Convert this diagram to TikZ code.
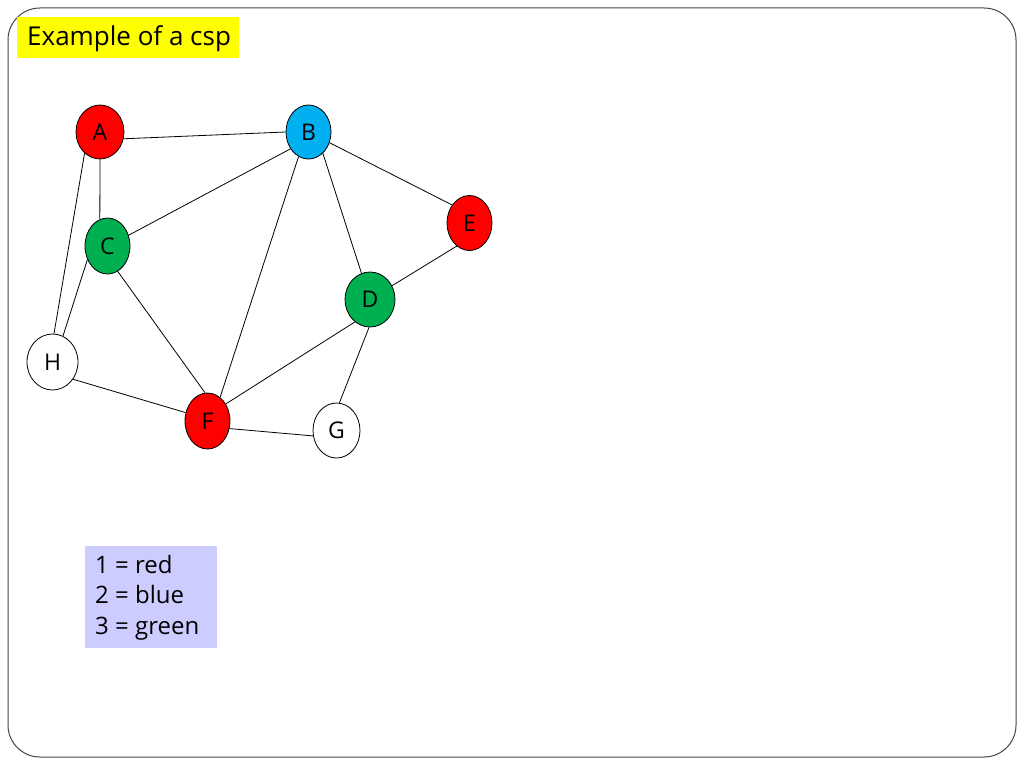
\documentclass[tikz,border=0pt]{standalone}
\usepackage{fontspec}
\setmainfont{Open Sans}
\usetikzlibrary{shapes.geometric}
\definecolor{nred}{RGB}{255,0,0}
\definecolor{nblue}{RGB}{0,176,240}
\definecolor{ngreen}{RGB}{0,176,80}
\definecolor{tyellow}{RGB}{255,255,0}
\definecolor{lav}{RGB}{204,204,255}
\definecolor{frame}{RGB}{70,70,70}
\begin{document}
\begin{tikzpicture}[x=1pt,y=-1pt,
  vnode/.style={ellipse,draw=black,line width=0.8pt,minimum width=46pt,minimum height=55pt,inner sep=0pt,font=\fontsize{23}{26}\selectfont},
  edge/.style={draw=black,line width=0.8pt}]
\useasboundingbox (0,0) rectangle (1024,768);
\fill[white] (0,0) rectangle (1024,768);
\draw[frame,line width=1pt,rounded corners=32pt] (8,8) rectangle (1016,757);
% title
\node[fill=tyellow,minimum width=222pt,minimum height=41pt,inner sep=0pt,anchor=north west] (title) at (17,17) {};
\node[anchor=west,font=\fontsize{26}{30}\selectfont,inner sep=0pt] (titletext) at (27,39) {Example of a csp};
% nodes
\node[vnode,fill=nred,minimum width=48pt,minimum height=54pt] (A) at (100,132) {A};
\node[vnode,fill=nblue,minimum width=45pt,minimum height=54pt] (B) at (308.5,132) {B};
\node[vnode,fill=ngreen,minimum width=45pt,minimum height=56pt] (C) at (107.5,246) {C};
\node[vnode,fill=nred,minimum width=45pt,minimum height=55pt] (E) at (469.5,223) {E};
\node[vnode,fill=ngreen,minimum width=50pt,minimum height=55pt] (D) at (370,299.5) {D};
\node[vnode,fill=white,minimum width=51pt,minimum height=56pt] (H) at (52.5,362) {H};
\node[vnode,fill=nred,minimum width=45pt,minimum height=56pt] (F) at (207.5,421) {F};
\node[vnode,fill=white,minimum width=47pt,minimum height=55pt] (G) at (336.5,430.5) {G};
% edges
\draw[edge] (A.-16) -- (B.180);
\draw[edge] (A.-90) -- (C.106);
\draw[edge] (A.234) -- (H.87);
\draw[edge] (B.223) -- (C.27);
\draw[edge] (B.248) -- (F.62);
\draw[edge] (B.-56) -- (D.108);
\draw[edge] (B.-27) -- (E.134);
\draw[edge] (C.214) -- (H.68);
\draw[edge] (C.-68) -- (F.95);
\draw[edge] (E.241) -- (D.32);
\draw[edge] (D.236) -- (F.43);
\draw[edge] (D.268) -- (G.84);
\draw[edge] (H.-40) -- (F.159);
\draw[edge] (F.-19) -- (G.193);
% legend
\node[fill=lav,minimum width=132pt,minimum height=102pt,inner sep=0pt,anchor=north west] (legend) at (85,546) {};
\node[anchor=north west,align=left,inner sep=0pt,font=\fontsize{24}{30.5}\selectfont] (legendtext) at (95,555) {1 = red\\2 = blue\\3 = green};
\end{tikzpicture}
\end{document}
